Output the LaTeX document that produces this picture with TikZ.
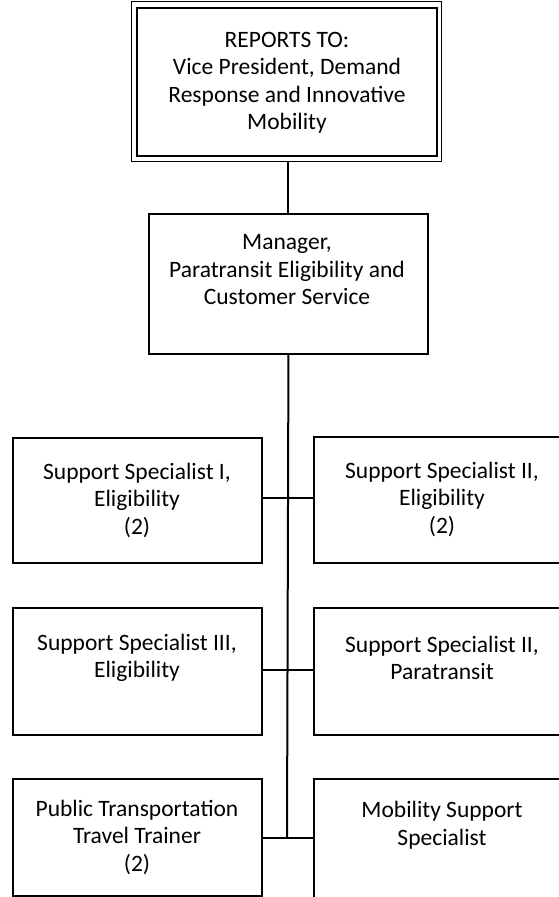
\documentclass[tikz,border=0pt]{standalone}
\usepackage{fontspec}
\setmainfont{Carlito}
\begin{document}
\begin{tikzpicture}[x=1pt,y=-1pt,
  box/.style={draw, line width=1.9pt, rectangle, inner sep=0pt, anchor=north west},
  thinbox/.style={draw, line width=1.2pt, rectangle, inner sep=0pt, anchor=north west},
  lbl/.style={align=center, inner sep=0pt, font=\fontsize{23.5}{27.5}\selectfont},
  conn/.style={draw, line width=2pt}]
\useasboundingbox (0,0) rectangle (559,897);

% reporting line (double frame)
\node[thinbox, minimum width=310pt, minimum height=160pt] (rptout) at (131,1) {};
\node[box, minimum width=300pt, minimum height=148pt] (rpt) at (136,7) {};
\node[lbl] (trpt) at (287,83) {REPORTS TO:\\Vice President, Demand\\Response and Innovative\\Mobility};

% manager
\node[box, minimum width=279pt, minimum height=140pt] (mgr) at (148,213) {};
\node[lbl] (tmgr) at (287,270) {Manager,\\Paratransit Eligibility and\\Customer Service};

% left column
\node[box, minimum width=249pt, minimum height=125pt] (l1) at (12,437) {};
\node[box, minimum width=249pt, minimum height=127pt] (l2) at (12,607) {};
\node[box, minimum width=249pt, minimum height=117pt] (l3) at (12,778) {};
% right column
\node[box, minimum width=258pt, minimum height=126pt] (r1) at (313,436) {};
\node[box, minimum width=258pt, minimum height=127pt] (r2) at (313,607) {};
\node[box, minimum width=258pt, minimum height=140pt] (r3) at (313,778) {};

\node[lbl] (tl1) at (137,500) {Support Specialist I,\\Eligibility\\(2)};
\node[lbl] (tr1) at (442,499) {Support Specialist II,\\Eligibility\\(2)};
\node[lbl] (tl2) at (137,658) {Support Specialist III,\\Eligibility};
\node[lbl] (tr2) at (442,658) {Support Specialist II,\\Paratransit};
\node[lbl] (tl3) at (137,837) {Public Transportation\\Travel Trainer\\(2)};
\node[lbl] (tr3) at (442,825) {Mobility Support\\Specialist};

% junctions on the spine
\coordinate (j1) at (287,498);
\coordinate (j2) at (287,670);
\coordinate (j3) at (287,838);

\draw[conn] (mgr.north |- rptout.south) -- (mgr.north);
\draw[conn] (mgr.south) -- (j3);
\draw[conn] (j1 -| l1.east) -- (j1 -| r1.west);
\draw[conn] (j2 -| l2.east) -- (j2 -| r2.west);
\draw[conn] (j3 -| l3.east) -- (j3 -| r3.west);
\end{tikzpicture}
\end{document}
